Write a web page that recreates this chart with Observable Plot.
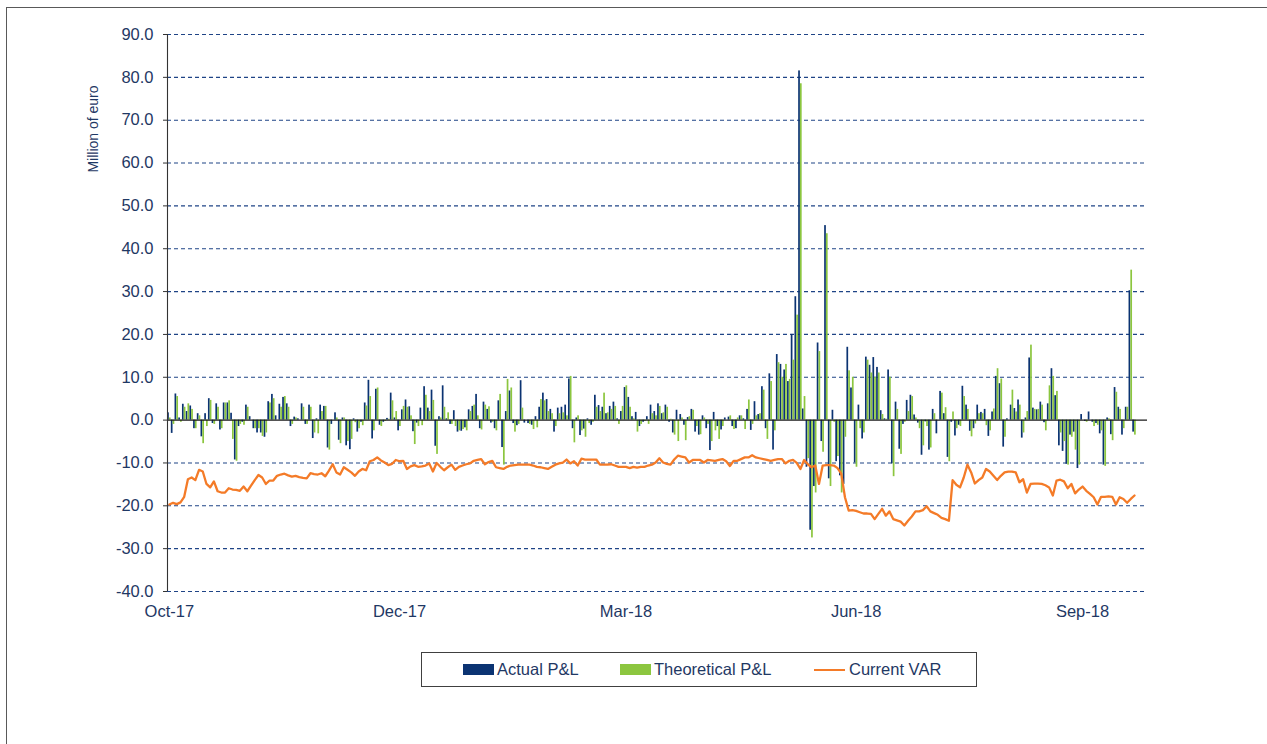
<!DOCTYPE html>
<html><head><meta charset="utf-8">
<script src="https://cdn.jsdelivr.net/npm/d3@7"></script>
<script src="https://cdn.jsdelivr.net/npm/@observablehq/plot@0.6"></script>
<style>
html,body{margin:0;padding:0;background:#fff;overflow:hidden;}
#wrap{position:relative;width:1267px;height:744px;overflow:hidden;font-family:"Liberation Sans",Arial,sans-serif;color:#1f3864;}
#frame{position:absolute;left:6px;top:7px;width:1400px;height:900px;border:1px solid #595959;}
#chart{position:absolute;left:0;top:0;}
#ytitle{position:absolute;left:43px;top:118px;width:100px;height:22px;line-height:22px;text-align:center;font-size:14px;transform:rotate(-90deg);white-space:nowrap;}
#legend{position:absolute;left:421px;top:652px;width:556px;height:35px;border:1px solid #404040;box-sizing:border-box;background:#fff;}
#legend .sw{position:absolute;top:11px;width:31px;height:11px;}
#legend .ln{position:absolute;top:15.5px;width:31px;height:2.4px;}
#legend .tx{position:absolute;top:0;line-height:33px;font-size:16.5px;white-space:nowrap;}
</style></head>
<body>
<div id="wrap">
  <div id="frame"></div>
  <div id="chart"></div>
  <div id="ytitle"></div>
  <div id="legend"></div>
</div>
<script>
// ---- data (million euro), one value per business day, Oct-17 .. Sep-18 ----
const actual = [
 1.7,-3.1,6.1,0.5,3.7,2,3.3,-2,1.5,-3.9,
 1.5,5,-0.8,3.8,-2.3,4,4,1.6,-9.3,-1.5,
 -0.5,3.5,0.8,-2,-3,-3,-4,4.3,6,1,
 3.7,5.3,3.8,-1.5,0.7,0.3,3.8,-1,3.5,-4.3,
 0.3,3.5,3.2,-6.5,-1,1.7,-4.7,0.5,-6,-6.9,
 0.3,-2.8,-0.5,4,9.3,-4.4,7.2,-1.2,-0.5,0.4,
 6.3,0.5,-2.5,2.4,4.7,3.1,-2.7,-0.7,2.8,7.8,
 2.8,7,-6.1,0.8,8,0.3,-1,2.2,-2.8,-2.6,
 -1.8,2.4,3.2,6,-2,4.2,2.5,-0.7,-2,4.5,
 -6.4,2,6.8,-0.8,-1.3,9.2,-0.7,-0.8,-1.2,0.8,
 3,6.3,4.8,2.5,-2.8,2.8,3,3.5,9.6,-2,
 0.5,-3.6,-2.1,0.3,-1.2,5.8,3.4,3,1.5,3.2,
 4.2,0.3,2,7.6,5.3,0.8,1.8,-1.5,-0.5,0.8,
 3.5,2,3.8,1.5,3.5,-0.5,-3,2.3,1.3,-1.2,
 0.6,2.5,-2.8,-3.5,1,-2,-7.1,1.8,-1.5,-2.3,
 0.5,0.7,-1.5,-2,1,0.3,2.5,-2.4,4.3,1.3,
 7.8,-2,10.8,-7,15.3,13,11.7,9,20,28.8,
 81.5,2.6,-11,-25.7,-15.5,18,-5,45.4,-13.7,2.3,
 -9.7,-13,-15,17,7.5,-10,3.5,-4.4,14.7,12.8,
 14.6,12.3,2.2,0.3,11.7,-10.2,4.2,-6.8,-1,4.6,
 5.8,1.2,-0.7,-8.2,-0.4,-7,2.5,-3.2,6.7,1.5,
 -8.7,-0.5,-3.7,-1.2,7.9,3.5,-2.6,-2,3.5,1.8,
 2.5,-3.8,1.9,10.2,8.5,-6.3,0.3,3.5,2.7,4.7,
 -4.2,0.5,14.5,2.8,2.4,4.2,-0.6,3.8,12,5.7,
 -6,-7.3,-10.3,-3.5,-2.8,-11.3,1.3,-0.3,1.9,-0.5,
 -0.8,-3.2,-10.5,0.5,-3.4,7.6,3,-3.5,3,30.2,-2.8
];
const theoretical = [
 0.5,-1,5.5,-0.5,3,3.8,2.5,-2,1,-5.5,
 -1.5,4.6,-1,3,-2,4,4.5,-4.5,-9.6,-1,
 -1.2,3,0,-2,-2,-3.8,-3,4,5,0,
 3,5.5,3,-1,0.5,0,3,-1,3,-3,
 -3.2,2,3.2,-7,0,0.5,-5.5,0.5,-5,-4.5,
 -0.6,-2,-1.3,3.3,5.5,-2.5,7.5,-1.5,-0.3,0.2,
 4.5,2,-1.5,3.2,3,1,-5.7,-1.5,-1.3,5.8,
 2,4.6,-8,0.5,3,1.7,-1,-1.5,-2.5,-2.2,
 -2.5,2,3.5,1,-2.3,3.5,3.1,-0.5,-2.5,6,
 -10.5,9.5,7.5,-2.8,-1,2.8,0,-1,-2.2,-1.8,
 4.8,4.5,2,1.5,-1.5,1.5,1.7,1,10.2,-5.3,
 1,-2.5,-4,-0.8,-0.5,3,2,6.3,1.7,2.5,
 3.2,-1,3.2,8,3,0.3,-2.8,-1,-0.3,-1,
 1.5,1,3.2,1.7,3,0.2,-3.5,-5,0.5,-4.8,
 0.8,2.3,-1.5,-3.4,0.5,-1,-5,-2.5,-4.5,-1.5,
 0,1,-2.2,0.5,1,-2.2,4.7,-1,1,1.5,
 7,-4.5,9,-2.5,13.4,10,13,9.5,14,24.5,
 78.5,5.5,-9,-27.5,-17,16,-7.5,43.5,-15.5,-0.5,
 -8.5,-17,-4,11.5,10,-11,-2,-3,14,11,
 10,11,1.3,0.2,10,-13.2,2.5,-8,-0.5,2,
 5.5,0.5,-2,-6,-1.5,-6.5,1.5,0,6.3,2.9,
 -9.7,1.9,-2,-1.5,5.5,2.5,-3.9,-0.9,1.5,1.5,
 -1.3,-2.5,2.6,12,9.6,-4,0,7,1.9,3.5,
 -3,2,17.5,2.5,2.5,3.5,-2.5,8,10.2,6.7,
 -3,-5,-10.5,-4,-7,-10.5,0,-0.5,0,-1.5,
 -1.2,-2.5,-10.8,0.3,-4.8,6.5,2.5,-2,3,35,-3.5
];
const currentVar = [
 -19.7,-19.3,-19.6,-19.2,-17.9,-13.8,-13.4,-14.0,-11.6,-12.0,
 -14.9,-15.7,-14.3,-16.6,-16.9,-16.9,-15.9,-16.2,-16.3,-16.5,
 -15.5,-16.6,-15.3,-14.0,-12.8,-13.4,-14.9,-14.1,-14.1,-13.0,
 -12.7,-12.5,-12.9,-13.2,-13.0,-13.3,-13.5,-13.6,-12.4,-12.6,
 -12.7,-12.4,-13.1,-11.8,-10.3,-12.2,-12.7,-11.0,-11.6,-12.2,
 -13.0,-12.0,-11.4,-11.7,-9.6,-9.3,-8.7,-9.4,-9.9,-10.5,
 -10.2,-9.3,-9.6,-9.5,-11.4,-10.8,-10.5,-10.9,-10.8,-10.6,
 -10.1,-12.0,-10.0,-10.9,-11.7,-11.0,-10.4,-11.6,-10.9,-10.6,
 -10.3,-10.1,-9.5,-9.3,-9.1,-10.3,-9.8,-9.5,-11.0,-11.2,
 -11.4,-10.9,-10.6,-10.5,-10.4,-10.4,-10.4,-10.4,-10.6,-10.9,
 -11.0,-11.2,-11.4,-10.9,-10.4,-10.1,-9.9,-9.2,-10.1,-9.6,
 -10.6,-9.0,-9.2,-9.2,-9.2,-9.2,-10.4,-10.4,-10.4,-10.3,
 -10.6,-10.9,-10.9,-10.9,-11.2,-10.9,-11.1,-10.9,-10.9,-10.6,
 -10.4,-9.9,-8.9,-9.9,-10.2,-10.4,-9.2,-8.3,-8.5,-8.7,
 -9.9,-9.3,-9.3,-9.3,-9.9,-9.3,-9.4,-9.5,-9.3,-9.1,
 -9.6,-10.7,-9.5,-9.5,-9.1,-8.7,-8.7,-8.2,-8.7,-8.9,
 -9.1,-9.3,-9.5,-9.3,-9.1,-9.1,-10.1,-9.5,-9.3,-10.0,
 -11.4,-9.3,-10.3,-11.0,-10.6,-14.9,-10.6,-10.5,-10.5,-10.6,
 -11.2,-12.5,-18.0,-21.1,-21.0,-21.2,-21.5,-21.8,-21.8,-21.9,
 -23.1,-21.9,-20.7,-22.3,-21.3,-23.1,-23.4,-23.7,-24.6,-23.5,
 -22.5,-21.3,-21.3,-21.0,-20.1,-21.3,-21.7,-22.1,-22.8,-23.1,
 -23.5,-14.0,-15.1,-15.7,-13.4,-10.4,-12.2,-14.8,-14.0,-13.4,
 -11.4,-12.0,-13.0,-14.0,-13.0,-12.2,-12.0,-12.0,-12.2,-14.5,
 -13.8,-16.9,-14.9,-14.8,-14.8,-14.9,-15.2,-15.7,-17.6,-14.1,
 -13.9,-14.3,-15.9,-14.9,-17.1,-16.2,-15.5,-16.5,-17.2,-18.0,
 -19.7,-17.9,-17.9,-17.8,-17.9,-19.7,-18.0,-18.4,-19.3,-18.4,-17.6
];
const yTicks = [-40,-30,-20,-10,0,10,20,30,40,50,60,70,80,90];
const tickIdx = [0, 62, 123, 185, 246];
const tickLabels = ["Oct-17","Dec-17","Mar-18","Jun-18","Sep-18"];
const seriesNames = ["Actual P&L","Theoretical P&L","Current VAR"];
const yTitle = "Million of euro";

const blue = "#0b3372", green = "#8cc63f", orange = "#f47b28", navy = "#1f3864";

const chart = Plot.plot({
  width: 1267, height: 640,
  marginLeft: 167, marginRight: 120, marginTop: 34, marginBottom: 49,
  style: {fontFamily: "'Liberation Sans', Arial, sans-serif", fontSize: "16.5px", background: "transparent", overflow: "visible"},
  x: {type: "linear", domain: [-0.5, 263.5]},
  y: {domain: [-40, 90]},
  marks: [
    Plot.ruleY(yTicks.filter(d => d !== 0), {stroke: "#1f4486", strokeWidth: 1.1, strokeDasharray: "4,3"}),
    Plot.rect(actual, {x1: (d, i) => i - 0.47, x2: (d, i) => i - 0.01, y1: 0, y2: d => d, fill: blue}),
    Plot.rect(theoretical, {x1: (d, i) => i + 0.01, x2: (d, i) => i + 0.47, y1: 0, y2: d => d, fill: green}),
    Plot.ruleY([0], {stroke: "#1a1a1a", strokeWidth: 1.3}),
    Plot.lineY(currentVar, {x: (d, i) => i, y: d => d, stroke: orange, strokeWidth: 2.3}),
    Plot.ruleX([-0.5], {y1: -40, y2: 90, stroke: "#333", strokeWidth: 1.1}),
    Plot.axisY({ticks: yTicks, tickFormat: d => d.toFixed(1), tickSize: 4, tickPadding: 10, stroke: "#333", fill: navy, fontSize: 16.5, label: null}),
    Plot.axisX({ticks: tickIdx, tickFormat: d => tickLabels[tickIdx.indexOf(d)], tickSize: 0, tickPadding: 14, fill: navy, fontSize: 16.5, label: null})
  ]
});
document.getElementById("chart").appendChild(chart);
document.getElementById("ytitle").textContent = yTitle;

// legend
const lg = document.getElementById("legend");
const items = [
  {kind: "sw", color: blue, sx: 41, tx: 75},
  {kind: "sw", color: green, sx: 198, tx: 232},
  {kind: "ln", color: orange, sx: 392, tx: 427}
];
items.forEach((it, k) => {
  const s = document.createElement("div");
  s.className = it.kind; s.style.left = it.sx + "px"; s.style.background = it.color;
  lg.appendChild(s);
  const t = document.createElement("div");
  t.className = "tx"; t.style.left = it.tx + "px"; t.textContent = seriesNames[k];
  lg.appendChild(t);
});
</script>
</body></html>
